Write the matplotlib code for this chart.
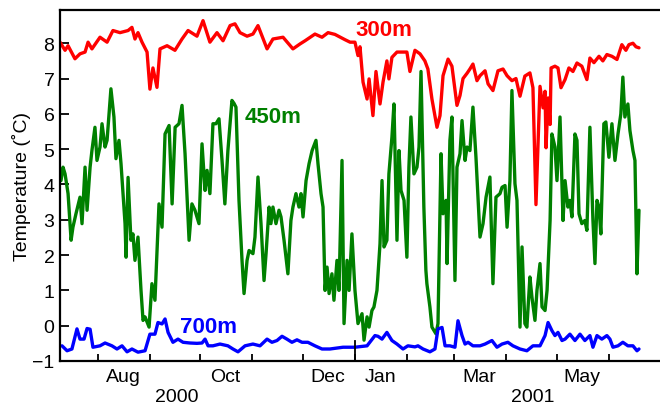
import numpy as np
import pandas as pd
import matplotlib
matplotlib.use('Agg')
import matplotlib.pyplot as plt
import matplotlib.transforms as mtransforms

plt.rcParams['font.family'] = ['Liberation Sans', 'DejaVu Sans']

# days since 2000-07-01 and temperatures
red_t = [8.5, 11.5, 13.3, 17.4, 20.4, 23.4, 25.2, 27.5, 32.3, 36.5,
         40.0, 44.2, 49.0, 51.3, 53.1, 54.9, 57.3, 60.3, 62.0, 63.8,
         66.2, 68.0, 72.2, 76.9, 81.1, 84.7, 90.0, 93.6, 97.7, 101.9,
         105.5, 109.7, 112.6, 115.6, 119.8, 123.3, 126.3, 131.7, 135.2, 141.2,
         147.1, 151.3, 154.3, 160.2, 164.4, 168.0, 172.1, 178.1, 181.1, 184.0,
         185.8, 187.0, 188.8, 191.2, 192.4, 194.7, 196.5, 198.9, 200.7, 203.0,
         204.2, 206.0, 209.0, 212.0, 214.9, 216.7, 219.7, 222.7, 225.6, 227.4,
         229.8, 232.8, 234.6, 236.4, 239.4, 241.7, 244.7, 246.5, 248.3, 250.7,
         252.4, 254.2, 256.6, 258.4, 261.4, 263.2, 266.1, 269.1, 272.1, 274.5,
         277.4, 279.8, 282.2, 285.1, 288.1, 289.9, 291.7, 294.1, 295.9, 297.1,
         297.7, 298.9, 300.1, 300.7, 303.0, 304.8, 306.6, 309.0, 311.3, 313.7,
         316.1, 319.0, 322.0, 323.8, 326.2, 329.2, 331.5, 333.9, 336.9, 339.9,
         342.8, 345.2, 347.0, 349.4, 351.2, 353.0]
red_v = [8.03, 7.8, 7.93, 7.56, 7.7, 7.75, 8.03, 7.84, 8.17, 8.03,
         8.36, 8.3, 8.36, 8.45, 8.12, 8.3, 8.03, 7.75, 6.7, 7.3,
         6.75, 7.84, 7.93, 7.8, 8.12, 8.36, 8.2, 8.64, 8.03, 8.3,
         8.07, 8.5, 8.55, 8.3, 8.2, 8.26, 8.5, 7.84, 8.12, 8.17,
         7.84, 7.98, 8.07, 8.26, 8.17, 8.3, 8.25, 8.1, 8.03, 8.03,
         7.65, 7.9, 6.9, 6.42, 6.99, 5.95, 7.2, 6.28, 6.9, 7.5,
         6.99, 7.6, 7.75, 7.75, 7.75, 7.2, 7.8, 7.7, 7.5, 7.27,
         6.42, 5.62, 5.95, 7.08, 7.55, 7.35, 6.24, 6.52, 7.0, 7.15,
         7.27, 7.41, 6.94, 7.08, 7.22, 6.85, 6.66, 7.22, 7.27, 7.08,
         6.94, 7.0, 6.5, 7.07, 7.16, 6.74, 3.43, 6.78, 6.17, 6.64,
         5.04, 6.45, 5.7, 7.3, 7.35, 7.3, 6.74, 6.97, 7.3, 7.2,
         7.44, 7.35, 6.97, 7.58, 7.45, 7.63, 7.5, 7.68, 7.63, 7.54,
         7.96, 7.8, 7.96, 8.0, 7.9, 7.87]

green_t = [9.1, 10.3, 11.5, 13.3, 15.1, 16.2, 18.0, 20.4, 21.6, 23.4,
           24.6, 26.4, 27.5, 29.3, 30.5, 32.3, 33.5, 35.3, 36.5, 38.8,
           40.6, 41.8, 43.6, 44.8, 47.2, 47.8, 49.0, 50.7, 51.9, 53.1,
           54.9, 56.7, 57.9, 59.1, 61.5, 63.2, 65.0, 67.4, 69.2, 71.0,
           73.4, 75.2, 77.0, 79.3, 81.1, 82.9, 85.3, 87.0, 88.8, 91.2,
           93.0, 94.8, 96.0, 97.7, 99.5, 101.3, 103.1, 104.9, 106.6, 108.4,
           110.8, 112.0, 113.2, 115.0, 116.8, 118.0, 119.8, 121.0, 123.3, 124.5,
           126.3, 128.1, 129.9, 131.1, 132.9, 134.0, 135.2, 137.0, 138.8, 140.0,
           141.8, 144.1, 145.9, 147.1, 148.9, 150.7, 151.9, 153.1, 154.9, 156.7,
           158.5, 160.8, 162.0, 163.8, 165.0, 166.2, 167.4, 168.6, 170.3, 171.5,
           173.3, 174.5, 176.3, 177.5, 179.3, 180.5, 182.2, 184.0, 185.8, 188.2,
           189.4, 191.2, 192.4, 194.1, 195.3, 197.1, 198.9, 200.1, 201.3, 203.0,
           204.2, 206.0, 207.2, 209.0, 210.2, 211.4, 213.2, 214.9, 216.1, 217.3,
           219.1, 220.9, 222.1, 223.3, 225.0, 226.2, 226.8, 228.6, 229.8, 232.2,
           233.4, 235.2, 236.4, 238.2, 238.8, 240.5, 241.7, 243.5, 244.7, 246.5,
           247.7, 249.5, 250.7, 252.4, 254.2, 256.0, 258.4, 260.2, 262.0, 264.3,
           266.1, 267.9, 270.3, 271.5, 273.3, 274.5, 276.2, 277.4, 279.2, 280.4,
           282.2, 283.4, 285.1, 286.3, 288.1, 289.3, 291.1, 292.3, 294.1, 295.3,
           297.1, 298.3, 300.1, 301.2, 303.0, 304.2, 306.0, 307.8, 309.0, 310.7,
           311.9, 313.1, 314.9, 316.1, 317.3, 319.0, 320.8, 322.0, 323.8, 325.6,
           326.8, 328.0, 329.2, 330.3, 332.1, 333.3, 335.1, 336.9, 338.7, 340.5,
           342.2, 343.4, 344.6, 346.4, 347.6, 349.4, 350.6, 351.8, 353.0]
green_v = [4.11, 4.49, 4.3, 3.74, 2.42, 2.79, 3.17, 3.64, 2.89, 4.49,
           3.27, 4.49, 4.96, 5.62, 4.68, 5.06, 5.72, 5.06, 5.25, 6.71,
           5.91, 4.73, 5.25, 4.59, 2.89, 1.94, 4.2, 2.42, 2.6, 1.85,
           2.51, 1.0, 0.15, 0.25, -0.04, 1.19, 0.72, 3.45, 2.79, 5.43,
           5.67, 3.45, 5.62, 5.72, 6.24, 4.87, 2.42, 3.45, 3.27, 2.89,
           5.15, 3.83, 4.4, 3.74, 5.72, 5.72, 5.86, 4.68, 3.45, 4.96,
           6.38, 6.3, 6.19, 3.55, 1.85, 0.91, 1.85, 2.13, 2.04, 2.51,
           4.21, 2.89, 1.28, 2.04, 3.36, 2.89, 3.36, 2.89, 3.27, 3.08,
           2.42, 1.47, 2.98, 3.36, 3.74, 3.36, 3.74, 3.08, 4.11, 4.59,
           4.96, 5.25, 4.59, 3.74, 3.36, 1.0, 1.66, 0.91, 1.47, 0.72,
           1.85, 1.0, 4.68, 0.06, 1.85, 1.0, 2.6, 1.0, 0.06, 0.34,
           -0.41, 0.25, -0.04, 0.43, 0.53, 1.0, 2.32, 4.11, 2.23, 2.42,
           4.3, 5.34, 6.28, 2.42, 4.96, 3.83, 3.55, 1.94, 4.49, 5.91,
           4.3, 4.49, 5.06, 7.2, 3.36, 1.57, 1.19, 0.53, -0.04, -0.23,
           0.06, 4.87, 3.17, 3.55, 1.76, 5.25, 5.91, 1.28, 4.49, 4.87,
           5.81, 4.68, 5.06, 4.96, 6.19, 4.77, 2.51, 2.89, 3.64, 4.21,
           1.19, 3.64, 3.74, 3.92, 3.97, 2.79, 4.11, 6.66, 4.02, 3.55,
           -0.04, 2.23, 0.06, -0.04, 1.38, 0.81, 0.15, 1.0, 1.76, 0.53,
           0.43, 1.0, 2.98, 5.43, 5.06, 4.11, 5.91, 2.98, 4.11, 3.36,
           3.55, 3.08, 5.43, 5.25, 3.17, 2.89, 2.98, 2.7, 5.62, 2.98,
           1.76, 3.55, 3.36, 2.6, 5.72, 5.77, 4.77, 5.72, 4.68, 5.43,
           6.0, 7.04, 5.91, 6.28, 5.53, 4.96, 4.68, 1.47, 3.27]

blue_t = [9.7, 12.7, 15.6, 18.6, 20.4, 22.8, 24.6, 26.4, 28.1, 32.3,
          35.3, 39.4, 42.4, 45.4, 48.4, 51.3, 54.9, 59.1, 62.0, 65.0,
          66.8, 69.2, 71.0, 72.8, 75.7, 78.7, 81.7, 85.8, 90.0, 93.0,
          94.8, 96.6, 99.5, 103.7, 108.4, 111.4, 114.4, 118.6, 123.3, 127.5,
          131.7, 134.6, 137.6, 140.6, 143.5, 146.5, 149.5, 152.5, 156.0, 160.2,
          164.4, 169.1, 176.9, 184.0, 191.2, 195.9, 197.7, 200.1, 203.0, 206.0,
          209.0, 212.6, 215.5, 219.7, 221.5, 224.5, 228.6, 231.6, 233.4, 235.8,
          237.6, 240.5, 243.5, 245.3, 247.7, 249.5, 251.3, 254.2, 258.4, 261.4,
          265.5, 268.5, 271.5, 275.0, 278.0, 282.2, 286.3, 289.9, 294.1, 297.1,
          298.9, 301.2, 303.0, 304.8, 307.2, 309.0, 311.9, 314.9, 317.9, 320.8,
          323.8, 325.6, 328.0, 330.9, 333.9, 335.7, 337.5, 340.5, 343.4, 346.4,
          349.4, 351.8, 353.0]
blue_v = [-0.57, -0.71, -0.66, -0.09, -0.38, -0.38, -0.08, -0.1, -0.61, -0.57,
          -0.49, -0.57, -0.66, -0.57, -0.74, -0.66, -0.75, -0.71, -0.24, -0.24,
          0.09, 0.05, 0.19, -0.19, -0.47, -0.38, -0.47, -0.49, -0.5, -0.49,
          -0.38, -0.57, -0.57, -0.52, -0.57, -0.66, -0.74, -0.57, -0.52, -0.57,
          -0.38, -0.47, -0.42, -0.3, -0.38, -0.47, -0.4, -0.47, -0.47, -0.57,
          -0.66, -0.66, -0.61, -0.61, -0.57, -0.28, -0.3, -0.38, -0.19, -0.42,
          -0.52, -0.66, -0.57, -0.6, -0.57, -0.66, -0.74, -0.66, -0.09, -0.05,
          -0.57, -0.57, -0.61, 0.14, -0.28, -0.52, -0.47, -0.57, -0.57, -0.52,
          -0.42, -0.61, -0.52, -0.47, -0.57, -0.66, -0.71, -0.57, -0.57, -0.28,
          0.09, -0.14, -0.28, -0.19, -0.42, -0.38, -0.24, -0.42, -0.24, -0.42,
          -0.28, -0.61, -0.28, -0.38, -0.28, -0.38, -0.61, -0.57, -0.47, -0.57,
          -0.57, -0.71, -0.66]

month_labels = ['Aug', 'Oct', 'Dec', 'Jan', 'Mar', 'May']
month_label_dates = ['2000-08-16', '2000-10-16', '2000-12-16',
                     '2001-01-16', '2001-03-16', '2001-05-16']
year_labels = ['2000', '2001']
year_label_dates = ['2000-09-17', '2001-04-17']

base = pd.Timestamp('2000-07-01')


def to_dates(days):
    return base + pd.to_timedelta(np.array(days), unit='D')


fig = plt.figure(figsize=(6.6, 4.06), dpi=100)
ax = fig.add_axes([60 / 660, 1 - 362 / 406, 1 - 60 / 660, (362 - 10.7) / 406])

line_kw = dict(lw=2.4, solid_joinstyle='round', solid_capstyle='round')
ax.plot(to_dates(red_t), red_v, color='#ff0000', **line_kw)
ax.plot(to_dates(green_t), green_v, color='#008000', **line_kw)
ax.plot(to_dates(blue_t), blue_v, color='#0000ff', **line_kw)

ax.text(to_dates([184.0])[0], 8.38, '300m', color='#ff0000', fontsize=16,
        fontweight='bold', ha='left', va='center')
ax.text(to_dates([118.6])[0], 5.93, '450m', color='#008000', fontsize=16,
        fontweight='bold', ha='left', va='center')
ax.text(to_dates([79.9])[0], -0.01, '700m', color='#0000ff', fontsize=16,
        fontweight='bold', ha='left', va='center')

ax.set_xlim(to_dates([8.5])[0], to_dates([365.5])[0])
ax.set_ylim(-1, 8.95)
ax.set_yticks(range(-1, 9))

month_starts = pd.date_range('2000-08-01', '2001-06-01', freq='MS')
ax.set_xticks(month_starts)
ax.set_xticklabels([''] * len(month_starts))
ax.set_xticks(pd.to_datetime(month_label_dates), minor=True)
ax.set_xticklabels(month_labels, minor=True)

ax.tick_params(axis='x', which='major', direction='in', length=5, width=1.3)
ax.tick_params(axis='x', which='minor', length=0, labelsize=14, pad=5)
ax.tick_params(axis='y', direction='in', length=6.5, width=1.3,
               labelsize=14, pad=4)

# longer tick at the turn of the year
ax.axvline(pd.Timestamp('2001-01-01'), ymin=0, ymax=20 / 351, color='black', lw=1.3)

trans = mtransforms.blended_transform_factory(ax.transData, ax.transAxes)
for lab, d in zip(year_labels, year_label_dates):
    ax.text(pd.Timestamp(d), -0.1, lab, transform=trans, fontsize=14,
            ha='center', va='center')

ax.set_ylabel('Temperature (˚C)', fontsize=14, labelpad=1)

for s in ['left', 'bottom', 'top']:
    ax.spines[s].set_linewidth(1.6)
ax.spines['right'].set_visible(False)

plt.savefig('out.png', dpi=100)
